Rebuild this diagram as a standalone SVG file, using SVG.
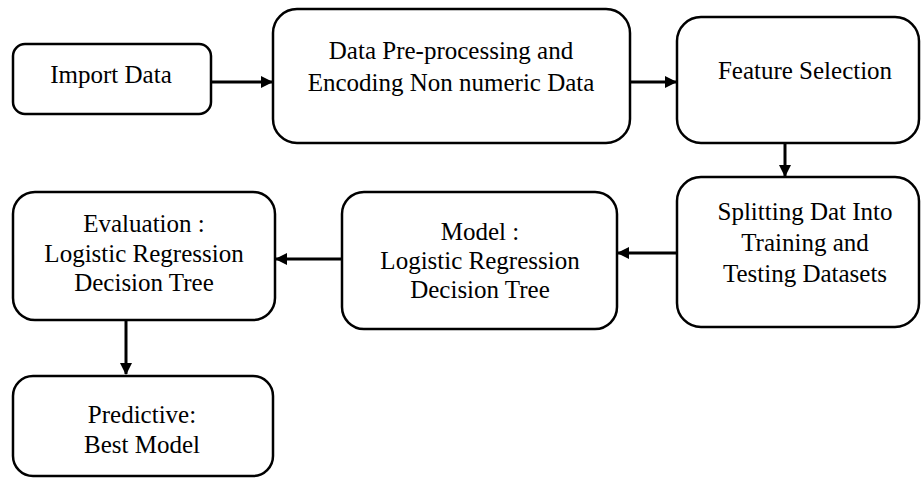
<svg xmlns="http://www.w3.org/2000/svg" width="921" height="478" viewBox="0 0 921 478">
  <style>
    .box { fill: #ffffff; stroke: #000000; stroke-width: 2.5; }
    .lbl { font-family: 'Liberation Serif', Tinos, 'Times New Roman', 'DejaVu Serif', serif; font-size: 25px; fill: #000000; text-anchor: middle; }
    .edge { fill: none; stroke: #000000; stroke-width: 3; marker-end: url(#head); }
  </style>
  <defs>
    <marker id="head" viewBox="0 0 12 12" refX="11" refY="6" markerWidth="12" markerHeight="12" markerUnits="userSpaceOnUse" orient="auto">
      <path d="M0,0 L12,6 L0,12 Z" fill="#000000"/>
    </marker>
  </defs>
  <rect width="921" height="478" fill="#ffffff"/>

  <g id="connectors">
    <line class="edge" x1="211" y1="82" x2="272" y2="82"/>
    <line class="edge" x1="630" y1="82" x2="676" y2="82"/>
    <line class="edge" x1="785" y1="143" x2="785" y2="176"/>
    <line class="edge" x1="682" y1="253" x2="618" y2="253"/>
    <line class="edge" x1="342" y1="259" x2="276" y2="259"/>
    <line class="edge" x1="126" y1="320" x2="126" y2="374"/>
  </g>

  <g id="import-data">
    <rect class="box" x="13" y="44" width="198" height="70" rx="12"/>
    <text class="lbl" x="111" y="83">Import Data</text>
  </g>

  <g id="preprocessing">
    <rect class="box" x="273" y="9" width="357" height="134" rx="24"/>
    <text class="lbl" x="451" y="59">Data Pre-processing and</text>
    <text class="lbl" x="451" y="91">Encoding Non numeric Data</text>
  </g>

  <g id="feature-selection">
    <rect class="box" x="677" y="17" width="242" height="126" rx="24"/>
    <text class="lbl" x="805" y="79">Feature Selection</text>
  </g>

  <g id="splitting">
    <rect class="box" x="677" y="177" width="242" height="150" rx="24"/>
    <text class="lbl" x="805" y="220">Splitting Dat Into</text>
    <text class="lbl" x="805" y="251">Training and</text>
    <text class="lbl" x="805" y="282">Testing Datasets</text>
  </g>

  <g id="model">
    <rect class="box" x="342" y="192" width="275" height="137" rx="22"/>
    <text class="lbl" x="480" y="240">Model :</text>
    <text class="lbl" x="480" y="269">Logistic Regression</text>
    <text class="lbl" x="480" y="298">Decision Tree</text>
  </g>

  <g id="evaluation">
    <rect class="box" x="13" y="192" width="262" height="128" rx="22"/>
    <text class="lbl" x="144" y="232">Evaluation :</text>
    <text class="lbl" x="144" y="262">Logistic Regression</text>
    <text class="lbl" x="144" y="291">Decision Tree</text>
  </g>

  <g id="predictive">
    <rect class="box" x="13" y="376" width="260" height="100" rx="20"/>
    <text class="lbl" x="142" y="423">Predictive:</text>
    <text class="lbl" x="142" y="453">Best Model</text>
  </g>
</svg>
